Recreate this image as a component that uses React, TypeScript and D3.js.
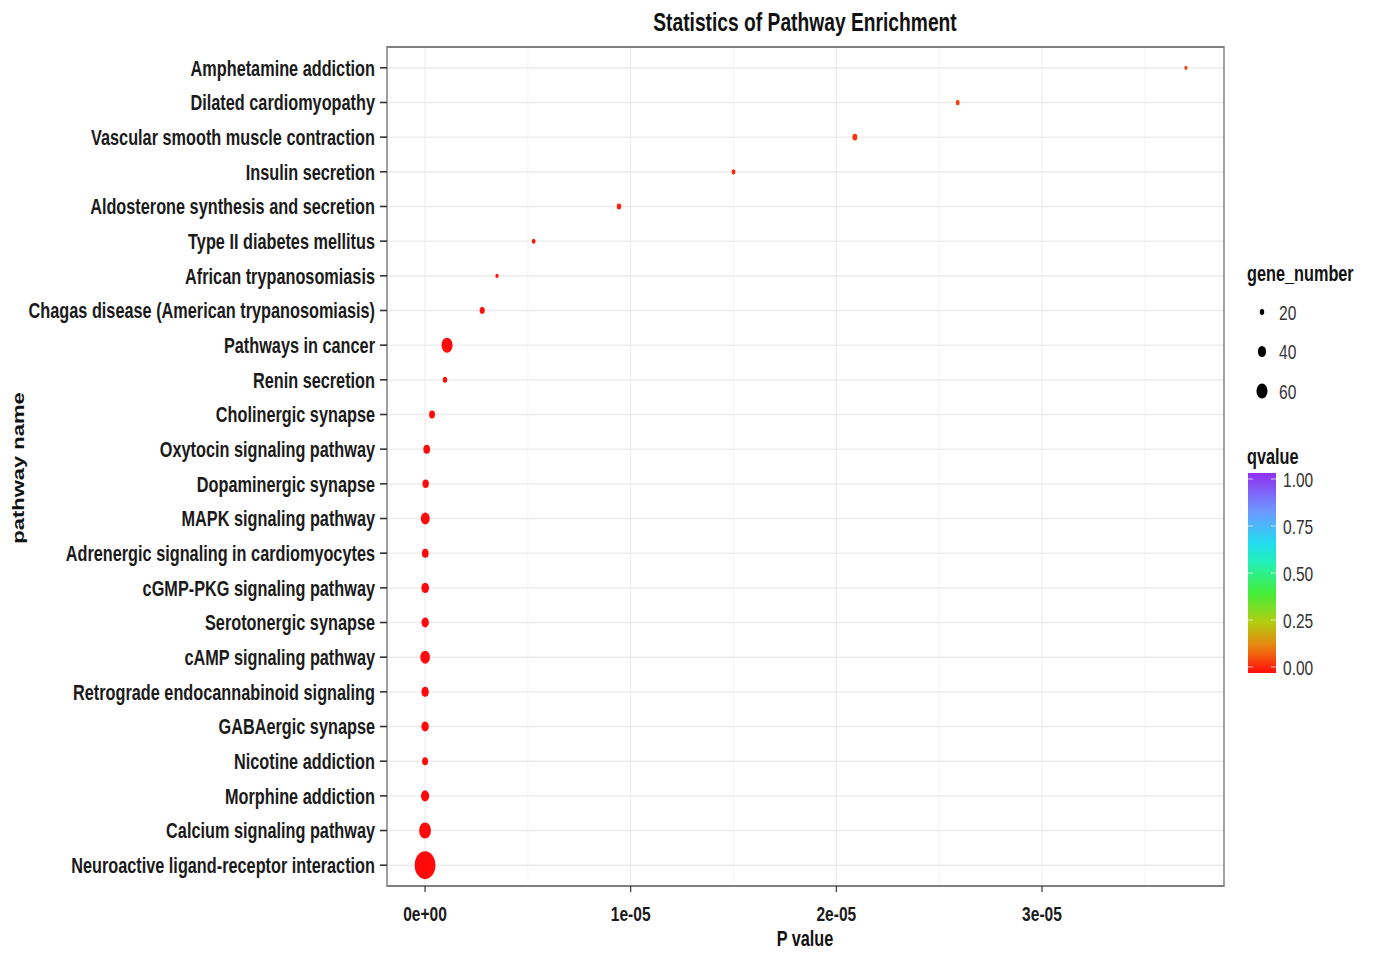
import * as d3 from 'd3';

// horizontal squeeze of the original picture (everything is drawn wide, then scaled)
const SX = 0.74;
const V = (px: number) => px / SX;

const PATHWAYS = [
  'Amphetamine addiction',
  'Dilated cardiomyopathy',
  'Vascular smooth muscle contraction',
  'Insulin secretion',
  'Aldosterone synthesis and secretion',
  'Type II diabetes mellitus',
  'African trypanosomiasis',
  'Chagas disease (American trypanosomiasis)',
  'Pathways in cancer',
  'Renin secretion',
  'Cholinergic synapse',
  'Oxytocin signaling pathway',
  'Dopaminergic synapse',
  'MAPK signaling pathway',
  'Adrenergic signaling in cardiomyocytes',
  'cGMP-PKG signaling pathway',
  'Serotonergic synapse',
  'cAMP signaling pathway',
  'Retrograde endocannabinoid signaling',
  'GABAergic synapse',
  'Nicotine addiction',
  'Morphine addiction',
  'Calcium signaling pathway',
  'Neuroactive ligand-receptor interaction',
];

const P_VALUES = [
  3.7e-5, 2.59e-5, 2.09e-5, 1.5e-5, 9.43e-6, 5.28e-6, 3.5e-6, 2.78e-6,
  1.07e-6, 9.7e-7, 3.4e-7, 8e-8, 3e-8, 1.1e-8,
  9e-9, 7e-9, 6e-9, 4e-9, 3e-9, 2e-9, 1.5e-9, 1e-9, 5e-10, 1e-14,
];

const GENE_NUMBER = [
  15, 18, 22, 18, 20, 17, 15, 23,
  60, 20, 27, 31, 29, 44,
  31, 37, 35, 49, 35, 35, 27, 40, 66, 156,
];

const Q_VALUES = [
  0.07, 0.055, 0.045, 0.035, 0.025, 0.015, 0.012, 0.01,
  0.004, 0.004, 0.002, 0.001, 0.001, 0,
  0, 0, 0, 0, 0, 0, 0, 0, 0, 0,
];

const X_TICKS = [0, 1e-5, 2e-5, 3e-5];
const X_TICK_LABELS = ['0e+00', '1e-05', '2e-05', '3e-05'];
const X_MINOR = [0.5e-5, 1.5e-5, 2.5e-5, 3.5e-5];
const SIZE_BREAKS = [20, 40, 60];
const Q_BREAKS = [0, 0.25, 0.5, 0.75, 1];
const Q_LABELS = ['0.00', '0.25', '0.50', '0.75', '1.00'];

const Q_STOPS = [0, 0.12, 0.25, 0.4, 0.55, 0.65, 0.8, 1];
const Q_COLORS = ['#ff0a0a', '#ee7a10', '#b4cc10', '#44ee3a', '#22f0b4', '#22dcf0', '#6a9cff', '#9030f0'];

const FONT = '"Liberation Sans", Arial, sans-serif';

export default function App() {
  const width = 1375;
  const height = 954;
  const panel = { left: 387, right: 1224, top: 47, bottom: 886 };

  const pMin = d3.min(P_VALUES) as number;
  const pMax = d3.max(P_VALUES) as number;
  const pad = (pMax - pMin) * 0.05;
  const x = d3.scaleLinear()
    .domain([pMin - pad, pMax + pad])
    .range([V(panel.left), V(panel.right)]);

  const y = d3.scalePoint<string>()
    .domain(PATHWAYS)
    .range([panel.top, panel.bottom])
    .padding(0.6);

  const r = d3.scaleSqrt().domain([20, 60]).range([3, 7.5]);
  const color = d3.scaleLinear<string>().domain(Q_STOPS).range(Q_COLORS).clamp(true);

  const qScale = d3.scaleLinear().domain([0, 1]).range([667, 479]);
  const gradStops = d3.range(0, 1.0001, 0.05);

  const rows = PATHWAYS.map((name, i) => ({
    name, p: P_VALUES[i], n: GENE_NUMBER[i], q: Q_VALUES[i],
  }));

  return (
    <svg width={width} height={height} style={{ position: 'absolute', left: 0, top: 0, background: '#fff' }}
      fontFamily={FONT}>
      <defs>
        <linearGradient id="qgrad" x1="0" y1="1" x2="0" y2="0">
          {gradStops.map(t => (
            <stop key={t} offset={t} stopColor={color(t)} />
          ))}
        </linearGradient>
      </defs>
      <g transform={`scale(${SX},1)`}>
        {/* title */}
        <text x={V(805)} y={31} textAnchor="middle" fontSize={26} fontWeight="bold" fill="#111">
          Statistics of Pathway Enrichment
        </text>

        {/* panel background and grid */}
        <rect x={V(panel.left)} y={panel.top} width={V(panel.right) - V(panel.left)}
          height={panel.bottom - panel.top} fill="#fff" />
        {X_MINOR.filter(v => x(v) < V(panel.right)).map(v => (
          <line key={`mx${v}`} x1={x(v)} x2={x(v)} y1={panel.top} y2={panel.bottom}
            stroke="#f2f2f2" strokeWidth={1} />
        ))}
        {X_TICKS.map(v => (
          <line key={`gx${v}`} x1={x(v)} x2={x(v)} y1={panel.top} y2={panel.bottom}
            stroke="#ebebeb" strokeWidth={1.4} />
        ))}
        {PATHWAYS.map(p => (
          <line key={`gy${p}`} x1={V(panel.left)} x2={V(panel.right)} y1={y(p)} y2={y(p)}
            stroke="#ebebeb" strokeWidth={1.4} />
        ))}

        {/* points */}
        {rows.map(d => (
          <circle key={d.name} cx={x(d.p)} cy={y(d.name)} r={r(d.n)} fill={color(d.q)} />
        ))}

        {/* panel border */}
        <rect x={V(panel.left)} y={panel.top} width={V(panel.right) - V(panel.left)}
          height={panel.bottom - panel.top} fill="none" stroke="#7f7f7f" strokeWidth={2} />

        {/* y axis */}
        {PATHWAYS.map(p => (
          <g key={`ty${p}`}>
            <line x1={V(380)} x2={V(panel.left)} y1={y(p)} y2={y(p)} stroke="#333" strokeWidth={1.6} />
            <text x={V(375)} y={y(p)} dy="0.36em" textAnchor="end" fontSize={22} fontWeight="bold" fill="#1a1a1a">
              {p}
            </text>
          </g>
        ))}

        {/* x axis */}
        {X_TICKS.map((v, i) => (
          <g key={`tx${v}`}>
            <line x1={x(v)} x2={x(v)} y1={panel.bottom} y2={panel.bottom + 6} stroke="#333" strokeWidth={1.6} />
            <text x={x(v)} y={921} textAnchor="middle" fontSize={21} fontWeight="bold" fill="#1a1a1a">
              {X_TICK_LABELS[i]}
            </text>
          </g>
        ))}
        <text x={V(805)} y={946} textAnchor="middle" fontSize={22} fontWeight="bold" fill="#111">P value</text>

        {/* legend: gene number */}
        <text x={V(1247)} y={281} fontSize={22} fontWeight="bold" fill="#111">gene_number</text>
        {SIZE_BREAKS.map((s, i) => (
          <g key={`s${s}`}>
            <circle cx={V(1262)} cy={312 + i * 39.5} r={r(s)} fill="#000" />
            <text x={V(1279)} y={312 + i * 39.5} dy="0.36em" fontSize={21} fill="#333">{s}</text>
          </g>
        ))}

        {/* legend: qvalue */}
        <text x={V(1247)} y={464} fontSize={22} fontWeight="bold" fill="#111">qvalue</text>
        <rect x={V(1248)} y={473} width={V(1276) - V(1248)} height={200} fill="url(#qgrad)" />
        {Q_BREAKS.map((q, i) => (
          <g key={`q${q}`}>
            <line x1={V(1248)} x2={V(1253)} y1={qScale(q)} y2={qScale(q)} stroke="#fff" strokeWidth={1} opacity={0.8} />
            <line x1={V(1271)} x2={V(1276)} y1={qScale(q)} y2={qScale(q)} stroke="#fff" strokeWidth={1} opacity={0.8} />
            <text x={V(1283)} y={qScale(q)} dy="0.36em" fontSize={21} fill="#333">{Q_LABELS[i]}</text>
          </g>
        ))}
      </g>

      {/* y axis title (rotated, so drawn outside the squeeze) */}
      <text transform={`translate(24,468) rotate(-90) scale(1,${SX})`} textAnchor="middle"
        fontSize={22} fontWeight="bold" fill="#111">
        pathway name
      </text>
    </svg>
  );
}
